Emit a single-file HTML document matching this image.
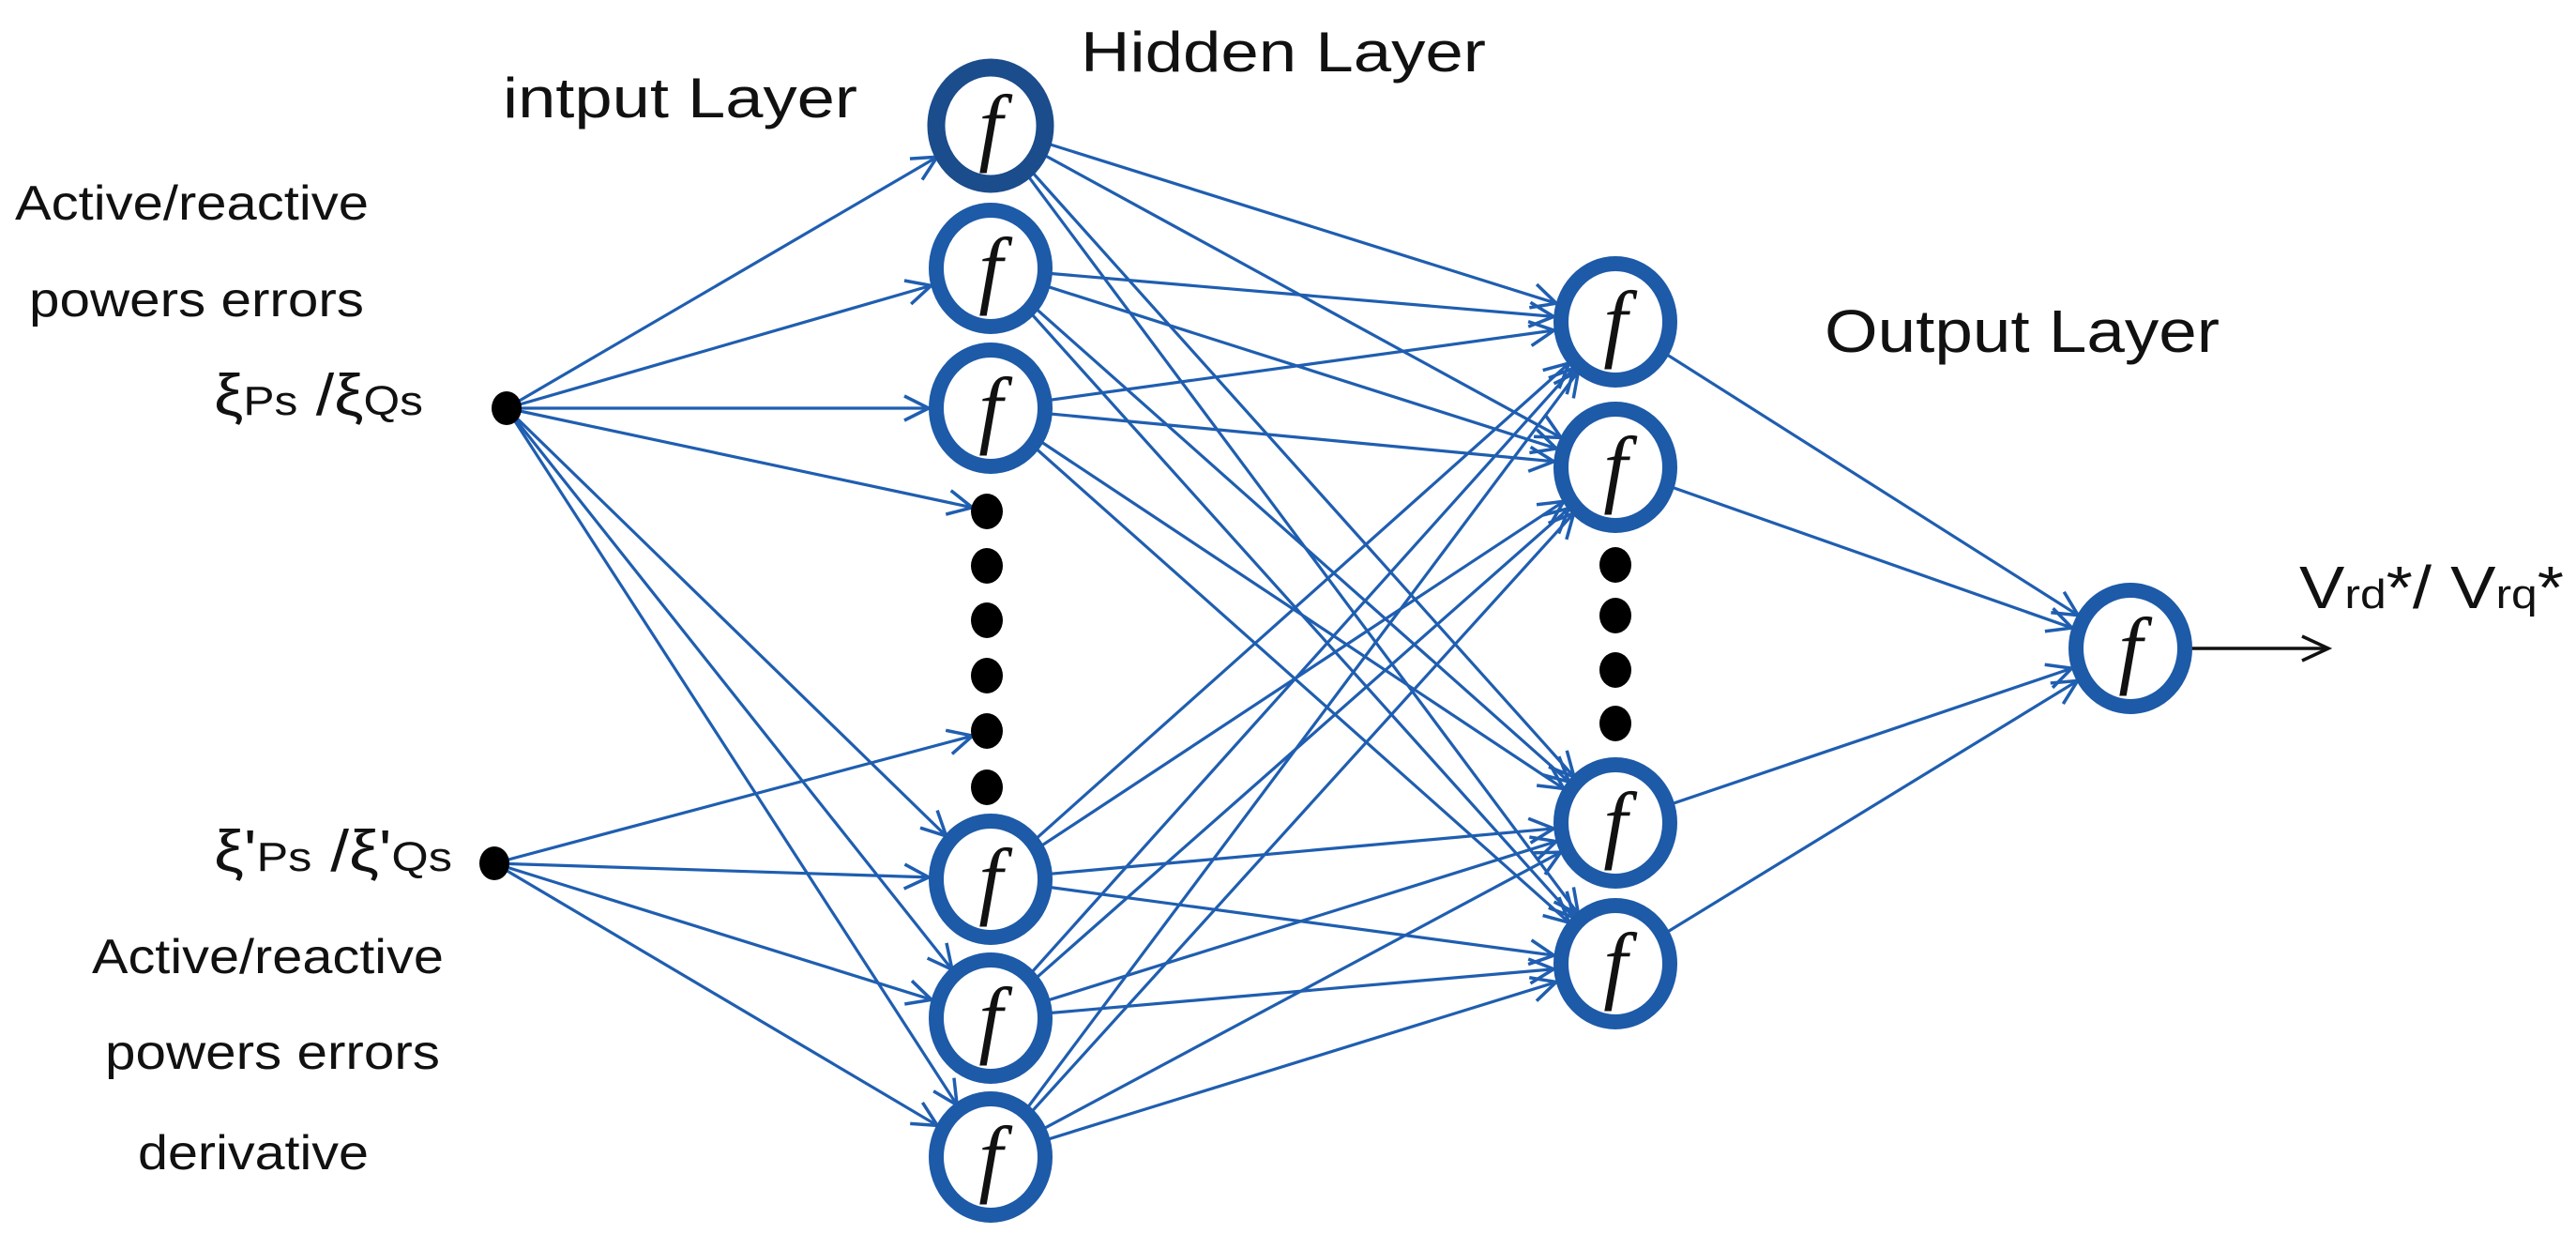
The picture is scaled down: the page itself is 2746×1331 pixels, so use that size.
<!DOCTYPE html>
<html><head><meta charset="utf-8"><style>
html,body{margin:0;padding:0;background:#fff}
svg{display:block}
text{font-family:"Liberation Sans",sans-serif;fill:#111}
.f{font-family:"Liberation Serif",serif;font-style:italic;font-size:92px;fill:#111}
</style></head><body>
<svg width="2746" height="1331" viewBox="0 0 2746 1331" xmlns="http://www.w3.org/2000/svg">
<defs>
<marker id="aN" markerUnits="userSpaceOnUse" markerWidth="112" markerHeight="34" viewBox="0 -17 112 34" refX="108" refY="0" orient="auto" overflow="visible">
<path d="M16,-13 L42,0 L16,13" fill="none" stroke="#1f5eb0" stroke-width="3.5"/>
</marker>
<marker id="aD" markerUnits="userSpaceOnUse" markerWidth="70" markerHeight="34" viewBox="0 -17 70 34" refX="62" refY="0" orient="auto" overflow="visible">
<path d="M16,-13 L42,0 L16,13" fill="none" stroke="#1f5eb0" stroke-width="3.5"/>
</marker>
<marker id="aB" markerUnits="userSpaceOnUse" markerWidth="50" markerHeight="34" viewBox="0 -17 50 34" refX="42" refY="0" orient="auto" overflow="visible">
<path d="M14,-13 L42,0 L14,13" fill="none" stroke="#111" stroke-width="3.5"/>
</marker>
</defs>

<g stroke="#1f5eb0" stroke-width="3.2" fill="none">
<!-- input1 -> hidden -->
<line x1="540" y1="435" x2="1056" y2="134" marker-end="url(#aN)"/>
<line x1="540" y1="435" x2="1056" y2="286" marker-end="url(#aN)"/>
<line x1="540" y1="435" x2="1056" y2="435" marker-end="url(#aN)"/>
<line x1="540" y1="435" x2="1056" y2="545" marker-end="url(#aD)"/>
<line x1="540" y1="435" x2="1056" y2="937" marker-end="url(#aN)"/>
<line x1="540" y1="435" x2="1056" y2="1085" marker-end="url(#aN)"/>
<line x1="540" y1="435" x2="1056" y2="1233" marker-end="url(#aN)"/>
<!-- input2 -> hidden -->
<line x1="527" y1="920" x2="1056" y2="779" marker-end="url(#aD)"/>
<line x1="527" y1="920" x2="1056" y2="937" marker-end="url(#aN)"/>
<line x1="527" y1="920" x2="1056" y2="1085" marker-end="url(#aN)"/>
<line x1="527" y1="920" x2="1056" y2="1233" marker-end="url(#aN)"/>
<!-- hidden -> output layer -->
<line x1="1056" y1="134" x2="1722" y2="343" marker-end="url(#aN)"/>
<line x1="1056" y1="134" x2="1722" y2="498" marker-end="url(#aN)"/>
<line x1="1056" y1="134" x2="1722" y2="877" marker-end="url(#aN)"/>
<line x1="1056" y1="134" x2="1722" y2="1027" marker-end="url(#aN)"/>
<line x1="1056" y1="286" x2="1722" y2="343" marker-end="url(#aN)"/>
<line x1="1056" y1="286" x2="1722" y2="498" marker-end="url(#aN)"/>
<line x1="1056" y1="286" x2="1722" y2="877" marker-end="url(#aN)"/>
<line x1="1056" y1="286" x2="1722" y2="1027" marker-end="url(#aN)"/>
<line x1="1056" y1="435" x2="1722" y2="343" marker-end="url(#aN)"/>
<line x1="1056" y1="435" x2="1722" y2="498" marker-end="url(#aN)"/>
<line x1="1056" y1="435" x2="1722" y2="877" marker-end="url(#aN)"/>
<line x1="1056" y1="435" x2="1722" y2="1027" marker-end="url(#aN)"/>
<line x1="1056" y1="937" x2="1722" y2="343" marker-end="url(#aN)"/>
<line x1="1056" y1="937" x2="1722" y2="498" marker-end="url(#aN)"/>
<line x1="1056" y1="937" x2="1722" y2="877" marker-end="url(#aN)"/>
<line x1="1056" y1="937" x2="1722" y2="1027" marker-end="url(#aN)"/>
<line x1="1056" y1="1085" x2="1722" y2="343" marker-end="url(#aN)"/>
<line x1="1056" y1="1085" x2="1722" y2="498" marker-end="url(#aN)"/>
<line x1="1056" y1="1085" x2="1722" y2="877" marker-end="url(#aN)"/>
<line x1="1056" y1="1085" x2="1722" y2="1027" marker-end="url(#aN)"/>
<line x1="1056" y1="1233" x2="1722" y2="343" marker-end="url(#aN)"/>
<line x1="1056" y1="1233" x2="1722" y2="498" marker-end="url(#aN)"/>
<line x1="1056" y1="1233" x2="1722" y2="877" marker-end="url(#aN)"/>
<line x1="1056" y1="1233" x2="1722" y2="1027" marker-end="url(#aN)"/>
<!-- output layer -> final -->
<line x1="1722" y1="343" x2="2271" y2="691" marker-end="url(#aN)"/>
<line x1="1722" y1="498" x2="2271" y2="691" marker-end="url(#aN)"/>
<line x1="1722" y1="877" x2="2271" y2="691" marker-end="url(#aN)"/>
<line x1="1722" y1="1027" x2="2271" y2="691" marker-end="url(#aN)"/>
</g>

<!-- output arrow -->
<line x1="2335" y1="691" x2="2482" y2="691" stroke="#111" stroke-width="3.5" marker-end="url(#aB)"/>

<!-- nodes -->
<g fill="#fff" stroke="#1d5aa8" stroke-width="16">
<ellipse cx="1056" cy="134" rx="58" ry="62" stroke="#1b4c8c" stroke-width="19"/>
<ellipse cx="1056" cy="286" rx="58" ry="62"/>
<ellipse cx="1056" cy="435" rx="58" ry="62"/>
<ellipse cx="1056" cy="937" rx="58" ry="62"/>
<ellipse cx="1056" cy="1085" rx="58" ry="62"/>
<ellipse cx="1056" cy="1233" rx="58" ry="62"/>
<ellipse cx="1722" cy="343" rx="58" ry="62"/>
<ellipse cx="1722" cy="498" rx="58" ry="62"/>
<ellipse cx="1722" cy="877" rx="58" ry="62"/>
<ellipse cx="1722" cy="1027" rx="58" ry="62"/>
<ellipse cx="2271" cy="691" rx="58" ry="62"/>
</g>
<g>
<text class="f" x="1056" y="165" text-anchor="middle">f</text>
<text class="f" x="1056" y="317" text-anchor="middle">f</text>
<text class="f" x="1056" y="466" text-anchor="middle">f</text>
<text class="f" x="1056" y="968" text-anchor="middle">f</text>
<text class="f" x="1056" y="1116" text-anchor="middle">f</text>
<text class="f" x="1056" y="1264" text-anchor="middle">f</text>
<text class="f" x="1722" y="374" text-anchor="middle">f</text>
<text class="f" x="1722" y="529" text-anchor="middle">f</text>
<text class="f" x="1722" y="908" text-anchor="middle">f</text>
<text class="f" x="1722" y="1058" text-anchor="middle">f</text>
<text class="f" x="2271" y="722" text-anchor="middle">f</text>
</g>

<!-- dots -->
<g fill="#000">
<ellipse cx="540" cy="435" rx="16" ry="18"/>
<ellipse cx="527" cy="920" rx="16" ry="18"/>
<ellipse cx="1052" cy="545" rx="17" ry="19"/>
<ellipse cx="1052" cy="603" rx="17" ry="19"/>
<ellipse cx="1052" cy="661" rx="17" ry="19"/>
<ellipse cx="1052" cy="720" rx="17" ry="19"/>
<ellipse cx="1052" cy="779" rx="17" ry="19"/>
<ellipse cx="1052" cy="839" rx="17" ry="19"/>
<ellipse cx="1722" cy="602" rx="17" ry="19"/>
<ellipse cx="1722" cy="656" rx="17" ry="19"/>
<ellipse cx="1722" cy="714" rx="17" ry="19"/>
<ellipse cx="1722" cy="771" rx="17" ry="19"/>
</g>

<!-- labels -->
<text x="536" y="125" font-size="60" textLength="378" lengthAdjust="spacingAndGlyphs">intput Layer</text>
<text x="1152" y="76" font-size="60" textLength="432" lengthAdjust="spacingAndGlyphs">Hidden Layer</text>
<text x="1945" y="375" font-size="64" textLength="421" lengthAdjust="spacingAndGlyphs">Output Layer</text>
<text x="2451" y="648" font-size="64" textLength="282" lengthAdjust="spacingAndGlyphs">V<tspan font-size="44">rd</tspan>*/ V<tspan font-size="44">rq</tspan>*</text>

<text x="16" y="234" font-size="52" textLength="377" lengthAdjust="spacingAndGlyphs">Active/reactive</text>
<text x="31" y="337" font-size="52" textLength="357" lengthAdjust="spacingAndGlyphs">powers errors</text>
<text x="228" y="442" font-size="62" textLength="223" lengthAdjust="spacingAndGlyphs">ξ<tspan font-size="44">Ps</tspan> /ξ<tspan font-size="44">Qs</tspan></text>

<text x="228" y="928" font-size="62" textLength="254" lengthAdjust="spacingAndGlyphs">ξ'<tspan font-size="44">Ps</tspan> /ξ'<tspan font-size="44">Qs</tspan></text>
<text x="98" y="1037" font-size="52" textLength="375" lengthAdjust="spacingAndGlyphs">Active/reactive</text>
<text x="112" y="1139" font-size="52" textLength="357" lengthAdjust="spacingAndGlyphs">powers errors</text>
<text x="147" y="1246" font-size="52" textLength="246" lengthAdjust="spacingAndGlyphs">derivative</text>
</svg>
</body></html>
